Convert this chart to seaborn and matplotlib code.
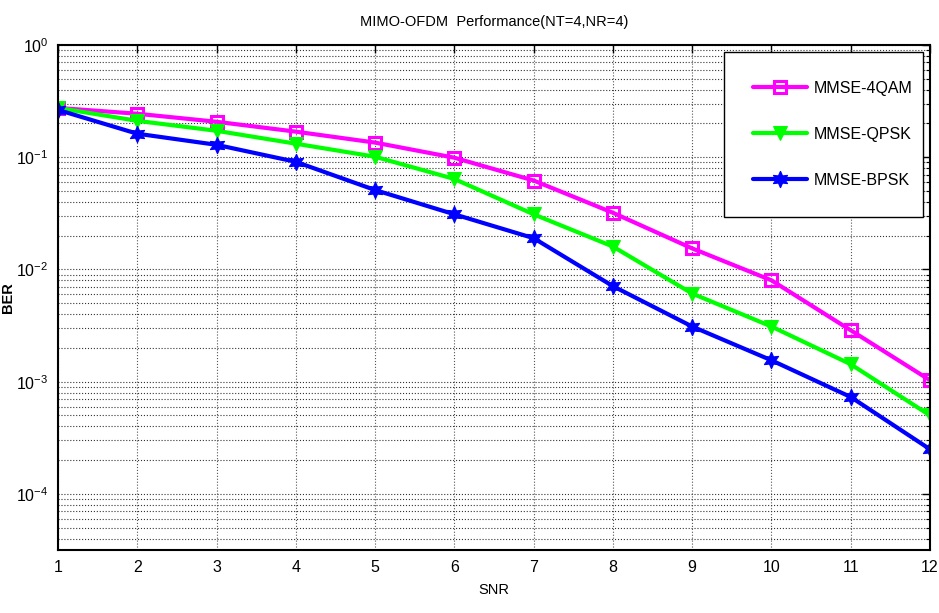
import pandas as pd
import seaborn as sns
import matplotlib.pyplot as plt
from matplotlib.ticker import LogLocator, NullFormatter

snr = [1, 2, 3, 4, 5, 6, 7, 8, 9, 10, 11, 12]
ber_4qam = [0.275, 0.244, 0.207, 0.169, 0.135, 0.099, 0.062, 0.032, 0.0154, 0.0080, 0.00287, 0.00103]
ber_qpsk = [0.275, 0.211, 0.172, 0.132, 0.101, 0.064, 0.031, 0.016, 0.0061, 0.0031, 0.00143, 0.00050]
ber_bpsk = [0.264, 0.162, 0.129, 0.091, 0.051, 0.031, 0.019, 0.0071, 0.0031, 0.00155, 0.00073, 0.00025]
labels = ["MMSE-4QAM", "MMSE-QPSK", "MMSE-BPSK"]

sns.set_style("white")
plt.rcParams['font.family'] = ['Liberation Sans', 'DejaVu Sans']
plt.rcParams['mathtext.default'] = 'regular'
plt.rcParams['text.color'] = 'black'
plt.rcParams['axes.labelcolor'] = 'black'

fig = plt.figure(figsize=(9.39, 6.13), dpi=100)
ax = fig.add_axes([58 / 939, 1 - 550 / 613, 872 / 939, 505 / 613])

styles = [
    (ber_4qam, "#ff00ff", "s", dict(markerfacecolor="none", markeredgewidth=2.2, markersize=8)),
    (ber_qpsk, "#00ff00", "v", dict(markersize=10)),
    (ber_bpsk, "#0000ff", (6, 1, 0), dict(markersize=12)),
]
for (vals, col, mk, kw), lab in zip(styles, labels):
    df = pd.DataFrame({"SNR": snr, "BER": vals})
    sns.lineplot(data=df, x="SNR", y="BER", ax=ax, color=col, marker=mk,
                 linewidth=3, markeredgecolor=col, label=lab, **kw)

ax.set_yscale("log")
ax.set_xlim(1, 12)
ax.set_ylim(10 ** -4.5, 1)
ax.set_xticks(snr)
ax.yaxis.set_major_locator(LogLocator(base=10, numticks=10))
ax.yaxis.set_minor_locator(LogLocator(base=10, subs=range(2, 10), numticks=20))
ax.yaxis.set_minor_formatter(NullFormatter())

ax.xaxis.grid(True, which="major", linestyle=":", color="#555555", linewidth=0.8)
ax.yaxis.grid(True, which="both", linestyle=":", color="#333333", linewidth=0.8)
ax.set_axisbelow(True)

for s in ax.spines.values():
    s.set_color("black")
    s.set_linewidth(1.5)
ax.tick_params(which="both", direction="in", top=True, right=True, colors="black",
               labelsize=11.5, pad=7)
ax.tick_params(which="major", length=6, width=1)
ax.tick_params(which="minor", length=3, width=0.8)

ax.set_title("MIMO-OFDM  Performance(NT=4,NR=4)", fontsize=10.5, pad=14, color="black")
ax.set_xlabel("SNR", fontsize=10.5, labelpad=6)
ax.set_ylabel("BER", fontsize=10.5, fontweight="bold")
ax.yaxis.set_label_coords(-0.049, 0.5)

leg = ax.legend(loc="upper left", bbox_to_anchor=(724 / 939, 1 - 214 / 613, 199 / 939, 162 / 613),
                bbox_transform=fig.transFigure, mode="expand", borderaxespad=0,
                fancybox=False, framealpha=1, edgecolor="black", fontsize=11.5,
                handlelength=3.4, labelspacing=1.95, borderpad=1.8, handletextpad=0.4)
leg.get_frame().set_linewidth(1.0)

fig.savefig("out.png", dpi=100)
